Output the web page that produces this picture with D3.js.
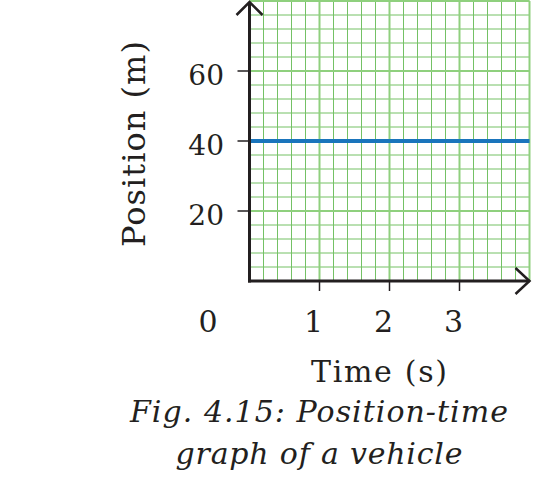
<!DOCTYPE html>
<html>
<head>
<meta charset="utf-8">
<script src="https://cdn.jsdelivr.net/npm/d3@7"></script>
<style>
  html, body { margin: 0; padding: 0; background: #fff; }
  svg text { font-family: "DejaVu Serif", "Liberation Serif", serif; fill: #231f20; }
</style>
</head>
<body>
<svg id="chart" width="546" height="502"></svg>
<script>
  // data
  var timeTicks = [1, 2, 3];
  var positionTicks = [20, 40, 60];
  var lineTime = [0, 4];
  var linePosition = [40, 40];
  var captionLines = ["Fig. 4.15: Position-time", "graph of a vehicle"];
  var captionWidths = [378, 287];

  var svg = d3.select("#chart");

  var x = d3.scaleLinear().domain([0, 4]).range([249.5, 529.5]);
  var y = d3.scaleLinear().domain([0, 80]).range([281, 1]);

  // minor grid (every 0.2 s, every 4 m)
  var minorX = d3.range(0, 4.01, 0.2);
  var minorY = d3.range(0, 80.01, 4);
  var grid = svg.append("g");
  grid.selectAll(".vminor").data(minorX).enter().append("line")
      .attr("x1", d => x(d)).attr("x2", d => x(d))
      .attr("y1", y(0)).attr("y2", y(80))
      .attr("stroke", "#74c165").attr("stroke-width", 1);
  grid.selectAll(".hminor").data(minorY).enter().append("line")
      .attr("y1", d => y(d)).attr("y2", d => y(d))
      .attr("x1", x(0)).attr("x2", x(4))
      .attr("stroke", "#74c165").attr("stroke-width", 1);

  // major grid
  grid.selectAll(".vmajor").data([1, 2, 3, 4]).enter().append("line")
      .attr("x1", d => x(d)).attr("x2", d => x(d))
      .attr("y1", y(0)).attr("y2", y(80))
      .attr("stroke", "#8fd07e").attr("stroke-width", 2);
  grid.selectAll(".hmajor").data([20, 40, 60, 80]).enter().append("line")
      .attr("y1", d => y(d)).attr("y2", d => y(d))
      .attr("x1", x(0)).attr("x2", x(4))
      .attr("stroke", "#8fd07e").attr("stroke-width", 2);

  // position line
  var line = d3.line().x((d, i) => x(lineTime[i])).y(d => y(d));
  svg.append("path")
      .datum(linePosition)
      .attr("d", line)
      .attr("fill", "none")
      .attr("stroke", "#1a75bc")
      .attr("stroke-width", 4);

  // axes
  var axisColor = "#231f20";
  svg.append("line")
      .attr("x1", x(0)).attr("x2", x(0))
      .attr("y1", y(0) + 1.5).attr("y2", 2)
      .attr("stroke", axisColor).attr("stroke-width", 3);
  svg.append("line")
      .attr("x1", x(0) - 1.5).attr("x2", x(4))
      .attr("y1", y(0)).attr("y2", y(0))
      .attr("stroke", axisColor).attr("stroke-width", 3);

  // arrow heads
  svg.append("path")
      .attr("d", "M" + (x(0) - 13) + "," + 15 + "L" + x(0) + "," + 2 + "L" + (x(0) + 13) + "," + 15)
      .attr("fill", "none").attr("stroke", axisColor).attr("stroke-width", 2.5);
  svg.append("path")
      .attr("d", "M" + (x(4) - 14) + "," + (y(0) - 13) + "L" + x(4) + "," + y(0) + "L" + (x(4) - 14) + "," + (y(0) + 13))
      .attr("fill", "none").attr("stroke", axisColor).attr("stroke-width", 2.5);

  // tick marks
  svg.selectAll(".ytick").data(positionTicks).enter().append("line")
      .attr("x1", x(0) - 12).attr("x2", x(0))
      .attr("y1", d => y(d)).attr("y2", d => y(d))
      .attr("stroke", axisColor).attr("stroke-width", 1.5);
  svg.selectAll(".xtick").data(timeTicks).enter().append("line")
      .attr("x1", d => x(d)).attr("x2", d => x(d))
      .attr("y1", y(0)).attr("y2", y(0) + 10)
      .attr("stroke", axisColor).attr("stroke-width", 1.5);

  // tick labels
  svg.selectAll(".ylabel").data(positionTicks).enter().append("text")
      .attr("x", 224).attr("y", d => y(d) + 14)
      .attr("text-anchor", "end")
      .style("font-size", "28px")
      .text(d => d);
  svg.selectAll(".xlabel").data(timeTicks).enter().append("text")
      .attr("x", d => x(d) - 6).attr("y", 332)
      .attr("text-anchor", "middle")
      .style("font-size", "30px")
      .text(d => d);
  svg.append("text")
      .attr("x", 208).attr("y", 332)
      .attr("text-anchor", "middle")
      .style("font-size", "30px")
      .text("0");

  // axis titles
  svg.append("text")
      .attr("transform", "translate(145,144)rotate(-90)")
      .attr("text-anchor", "middle")
      .attr("textLength", 206)
      .attr("lengthAdjust", "spacing")
      .style("font-size", "32px")
      .text("Position (m)");
  svg.append("text")
      .attr("x", 379).attr("y", 382)
      .attr("text-anchor", "middle")
      .attr("textLength", 136)
      .attr("lengthAdjust", "spacing")
      .style("font-size", "30px")
      .text("Time (s)");

  // caption
  svg.selectAll(".caption").data(captionLines).enter().append("text")
      .attr("x", 319).attr("y", (d, i) => 422 + i * 42)
      .attr("text-anchor", "middle")
      .attr("textLength", (d, i) => captionWidths[i])
      .attr("lengthAdjust", "spacing")
      .style("font-size", "30px")
      .style("font-style", "italic")
      .text(d => d);
</script>
</body>
</html>
